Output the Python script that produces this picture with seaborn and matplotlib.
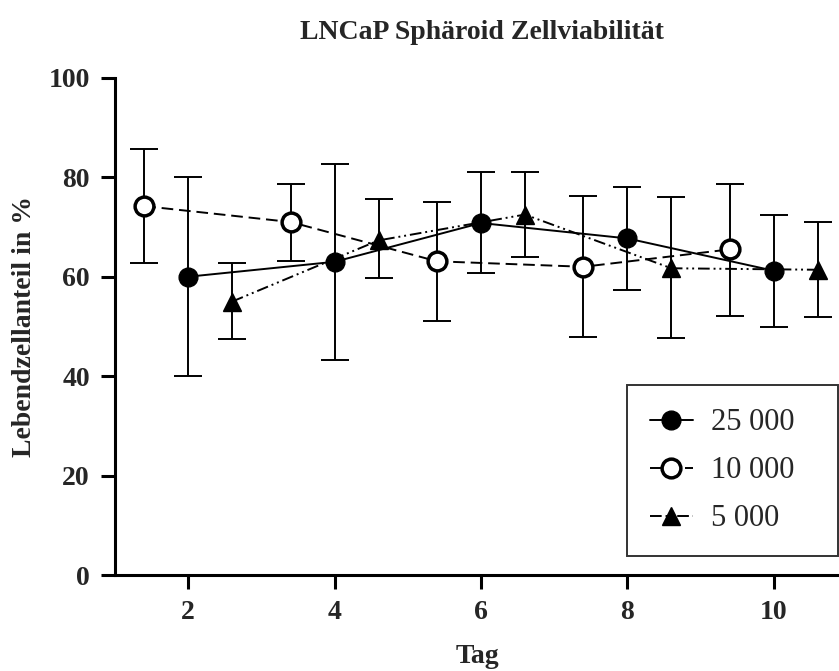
import numpy as np
import pandas as pd
import seaborn as sns
import matplotlib
matplotlib.use("Agg")
import matplotlib.pyplot as plt
from matplotlib.lines import Line2D

# Data
series_names = ["25 000", "10 000", "5 000"]
x_25000 = [2.0, 4.0, 6.0, 8.0, 10.0]
y_25000 = [60.0, 63.0, 70.8, 67.7, 61.2]
lo_25000 = [40.1, 43.2, 60.7, 57.3, 49.9]
hi_25000 = [80.1, 82.7, 81.0, 78.1, 72.5]

x_10000 = [1.4, 3.4, 5.4, 7.4, 9.4]
y_10000 = [74.2, 71.0, 63.1, 62.0, 65.5]
lo_10000 = [62.8, 63.2, 51.0, 47.9, 52.2]
hi_10000 = [85.7, 78.7, 75.0, 76.3, 78.7]

x_5000 = [2.6, 4.6, 6.6, 8.6, 10.6]
y_5000 = [55.0, 67.3, 72.5, 61.7, 61.4]
lo_5000 = [47.5, 59.7, 64.0, 47.6, 51.9]
hi_5000 = [62.8, 75.7, 81.1, 76.1, 71.1]

x_ticks = [2, 4, 6, 8, 10]
y_ticks = [0, 20, 40, 60, 80, 100]

sns.set_style("ticks")
plt.rcParams['font.family'] = ['Liberation Serif', 'DejaVu Serif']

fig = plt.figure(figsize=(8.39, 6.71), dpi=100)
ax = fig.add_axes([0.137, 0.143, 0.863, 0.741])

styles = [
    dict(x=x_25000, y=y_25000, lo=lo_25000, hi=hi_25000, ls='-', marker='o', mfc='black'),
    dict(x=x_10000, y=y_10000, lo=lo_10000, hi=hi_10000, ls=(0, (6, 3)), marker='o', mfc='white'),
    dict(x=x_5000, y=y_5000, lo=lo_5000, hi=hi_5000, ls=(0, (6, 2, 1, 2, 1, 2)), marker='^', mfc='black'),
]

def msize(s):
    return 13.5 if s["marker"] == 'o' else 13

def mew(s):
    return 2.5 if s["mfc"] == 'white' else 1

handles = []
for name, s in zip(series_names, styles):
    df = pd.DataFrame({"Tag": s["x"], "val": s["y"]})
    y = np.array(s["y"]); lo = np.array(s["lo"]); hi = np.array(s["hi"])
    ax.errorbar(s["x"], y, yerr=[y - lo, hi - y], fmt='none', ecolor='black',
                elinewidth=1.4, capsize=10, capthick=1.4, zorder=2)
    sns.lineplot(data=df, x="Tag", y="val", ax=ax, color='black', linewidth=1.4,
                 linestyle=s["ls"], marker=s["marker"], markersize=msize(s),
                 markerfacecolor=s["mfc"], markeredgecolor='black',
                 markeredgewidth=mew(s), zorder=3)
    handles.append(Line2D([0], [0], color='black', linewidth=1.4, linestyle=s["ls"],
                          marker=s["marker"], markersize=msize(s),
                          markerfacecolor=s["mfc"], markeredgecolor='black',
                          markeredgewidth=mew(s)))

ax.set_xlim(1.0, 10.89)
ax.set_ylim(0, 100)
ax.set_xticks(x_ticks)
ax.set_yticks(y_ticks)
ax.set_xticklabels([str(t) for t in x_ticks], fontsize=20, fontweight='bold')
ax.set_yticklabels([str(t) for t in y_ticks], fontsize=20, fontweight='bold')
ax.tick_params(axis='both', direction='out', length=10, width=2.2, color='black', pad=8)
for sp in ['top', 'right']:
    ax.spines[sp].set_visible(False)
for sp in ['left', 'bottom']:
    ax.spines[sp].set_linewidth(2.2)
    ax.spines[sp].set_color('black')

ax.set_xlabel("Tag", fontsize=20, fontweight='bold', labelpad=14)
ax.set_ylabel("Lebendzellanteil in %", fontsize=20, fontweight='bold', labelpad=8)
fig.text(0.575, 0.952, "LNCaP Sphäroid Zellviabilität", fontsize=20, fontweight='bold',
         ha='center', va='center')

leg = ax.legend(handles, series_names, loc='lower left',
                bbox_to_anchor=(0.707, 0.038, 0.2916, 0.34), mode='expand',
                fontsize=22, frameon=True, fancybox=False, edgecolor='black',
                handlelength=1.4, handletextpad=0.6, labelspacing=0.62,
                borderpad=0.75, borderaxespad=0)
leg.get_frame().set_linewidth(1.4)

fig.savefig("out.png", dpi=100)
